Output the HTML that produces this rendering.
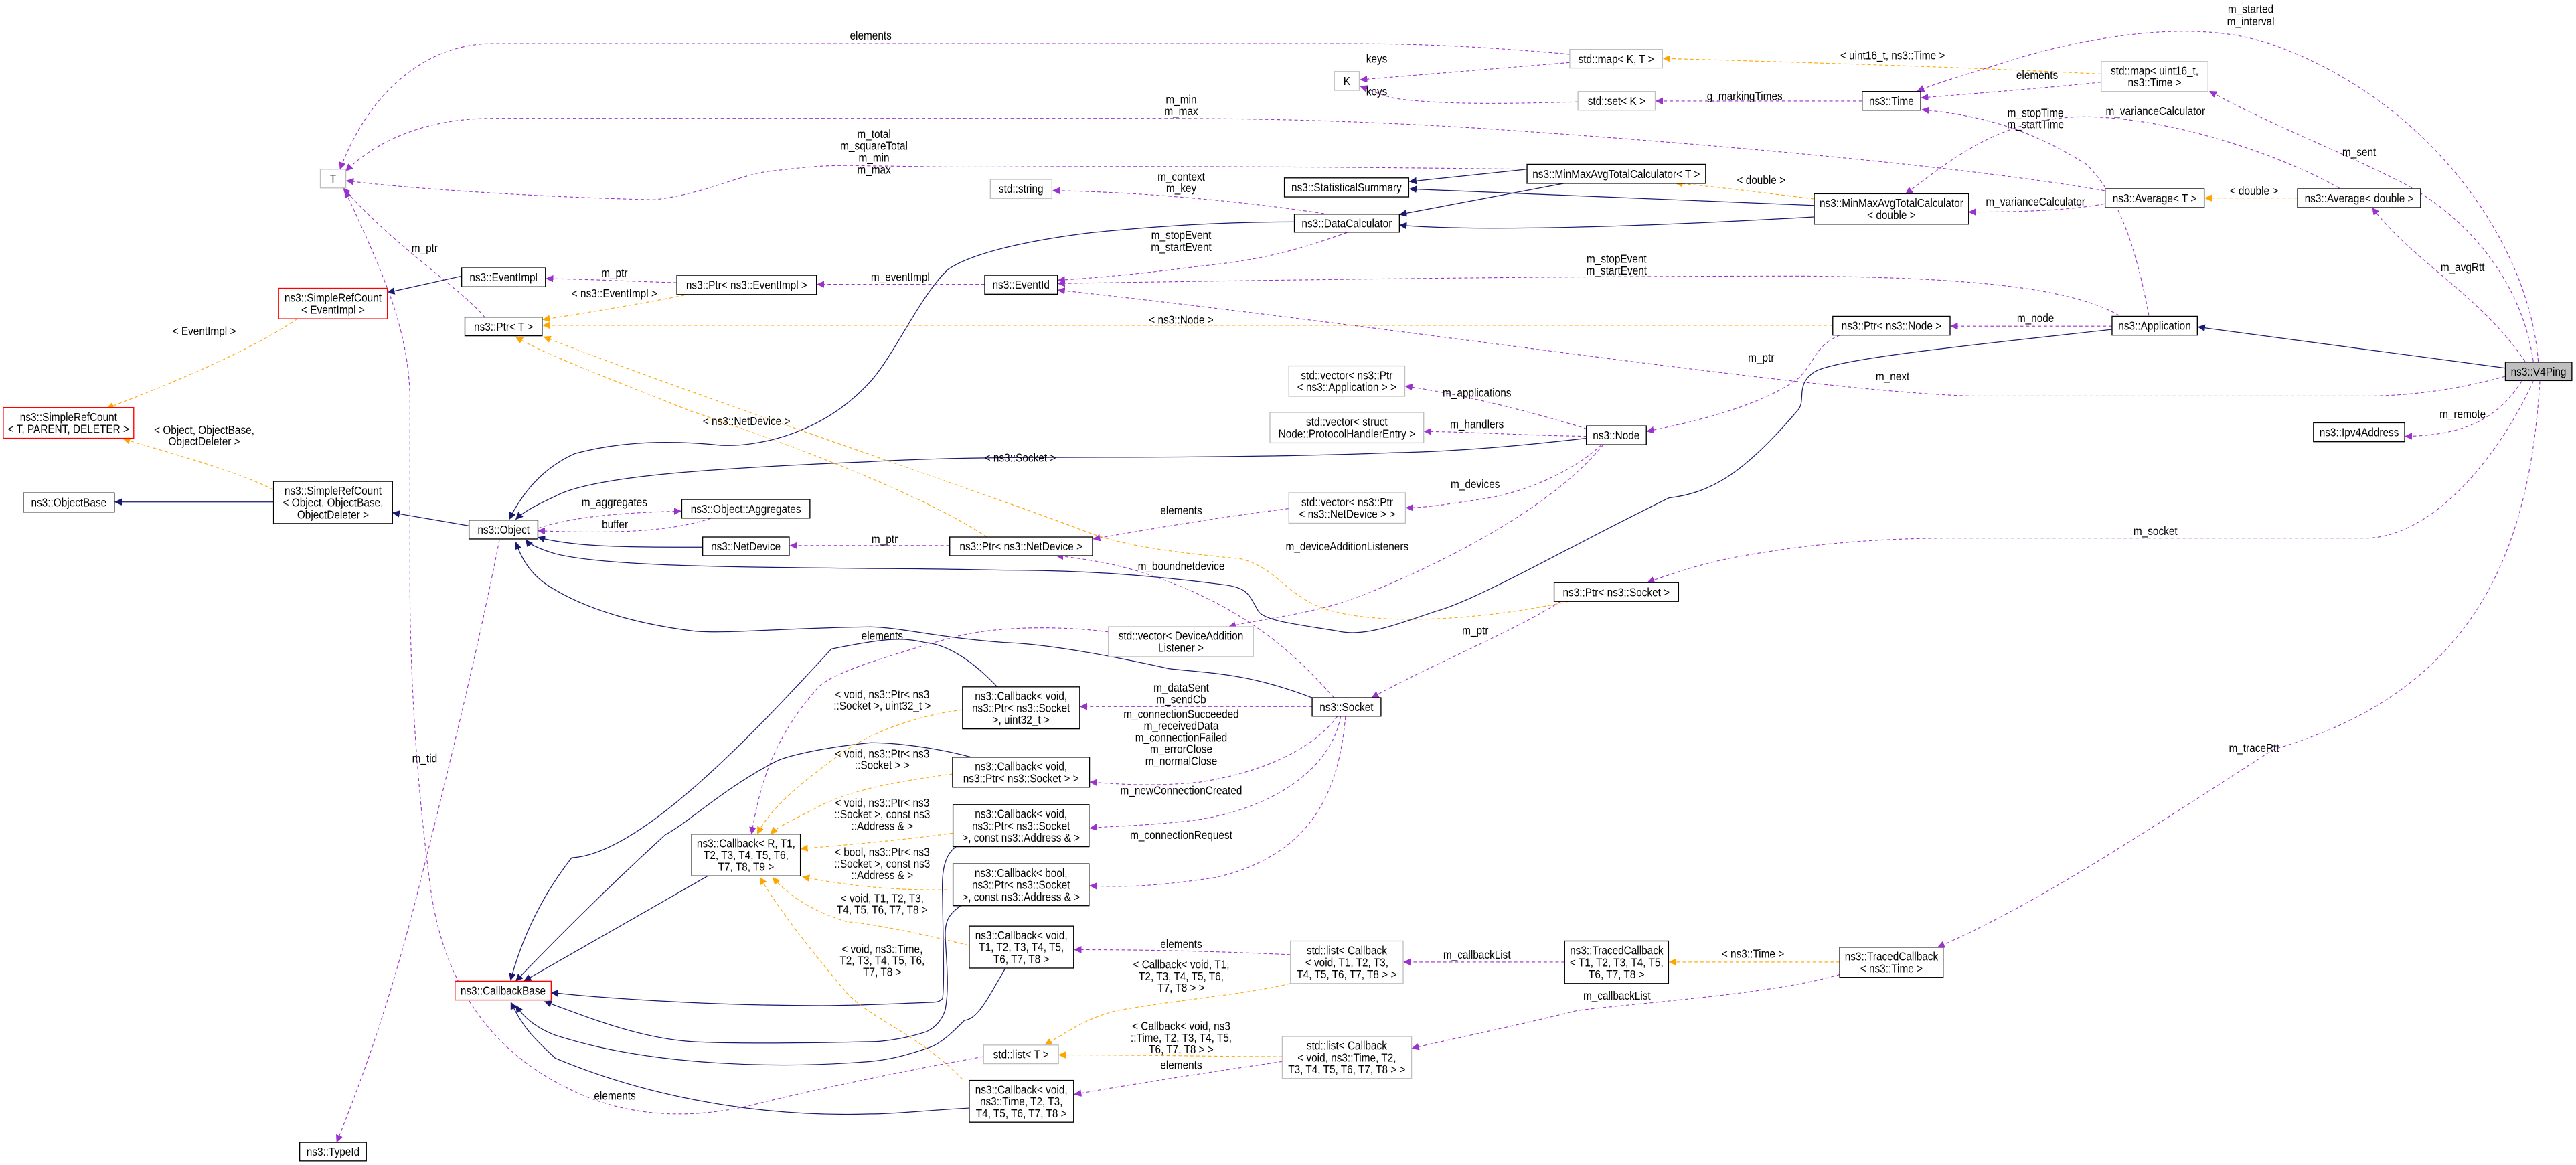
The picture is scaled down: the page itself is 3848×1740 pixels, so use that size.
<!DOCTYPE html>
<html><head><meta charset="utf-8"><style>
html,body{margin:0;padding:0;background:#fff;width:3848px;height:1740px;overflow:hidden}
svg{display:block}
text{font-family:"Liberation Sans",sans-serif;font-size:7.2px;fill:#000;text-anchor:middle;transform-box:fill-box;transform-origin:center;transform:scaleX(0.87)}
.b{fill:#fff;stroke:#000;stroke-width:0.55}
.g{fill:#fff;stroke:#bfbfbf;stroke-width:0.55}
.r{fill:#fff;stroke:#ff0000;stroke-width:0.55}
.u{fill:none;stroke:#9a32cd;stroke-width:0.45;stroke-dasharray:2 1.6}
.t{fill:none;stroke:#ffa500;stroke-width:0.45;stroke-dasharray:2 1.6}
.i{fill:none;stroke:#191970;stroke-width:0.5}
</style></head><body>
<svg width="3848" height="1740" viewBox="0 0 1568 709" xmlns="http://www.w3.org/2000/svg">
<defs>
<marker id="mu" markerUnits="userSpaceOnUse" markerWidth="5" markerHeight="5" refX="4.2" refY="2" orient="auto"><path d="M0,0 L4.2,2 L0,4 Z" fill="#9a32cd" stroke="#9a32cd" stroke-width="0.3"/></marker>
<marker id="mt" markerUnits="userSpaceOnUse" markerWidth="5" markerHeight="5" refX="4.2" refY="2" orient="auto"><path d="M0,0 L4.2,2 L0,4 Z" fill="#ffa500" stroke="#ffa500" stroke-width="0.3"/></marker>
<marker id="mi" markerUnits="userSpaceOnUse" markerWidth="5" markerHeight="5" refX="4.2" refY="2" orient="auto"><path d="M0,0 L4.2,2 L0,4 Z" fill="#191970" stroke="#191970" stroke-width="0.3"/></marker>
</defs>

<g class="i" marker-end="url(#mi)">
<path d="M1525,224 L1338,199"/>
<path d="M166.5,305.5 L70,305.5"/>
<path d="M285.5,320 L239,312"/>
<path d="M281,168 L236,178"/>
<path d="M929.5,103 L858,110.5"/>
<path d="M952,111.6 L852,130.5"/>
<path d="M1104,125 C1000,121 900,117 858,115"/>
<path d="M1104,132 C1000,138 900,141 852,137"/>
<path d="M788,135 C740,135 700,138 665,141.5 C620,147 590,155 577,164 C560,180 545,215 530,232 C500,265 460,272 439,271 C410,268 380,268 350,276 C330,285 318,300 310,316"/>
<path d="M1285.6,200.5 C1200,210 1120,218 1105,226 C1092,234 1100,244 1094,250 C1060,290 1040,300 1016,303 C960,330 900,365 874,372 C850,380 830,388 814,384 C790,380 770,378 766,372 C760,362 760,358 746,356 C700,350 660,347 611,347 C560,346 529,346 529,346 C450,345 370,345 338,337 C328,334 322,331 320,328.5"/>
<path d="M965.6,266.7 C920,272 880,275 848,275.5 C760,279 650,278 611,278.5 C560,279 529,281 529,281 C430,285 360,290 338,302 C325,308 318,312 314,316"/>
<path d="M427.7,333 C380,333 350,333 327.5,327"/>
<path d="M798.7,424.6 C760,410 740,410 712,407 C680,400 640,392 611,391 C570,388 550,382 530,381.5 C480,382 440,386 422,384 C390,380 360,372 338,359 C325,352 318,342 314,330"/>
<path d="M607,418 C590,400 575,392 563,391 C550,388 540,388 506,395 C460,445 390,520 348,522 C330,545 318,570 310.8,596.5"/>
<path d="M592,461 C570,455 545,452 530,452 C500,455 480,460 473,463 C440,480 420,500 405,508 C370,540 340,570 314,597"/>
<path d="M431,533 L319,597"/>
<path d="M582,515.3 C575,520 573,530 573.7,545 C574,570 575,600 573.7,607.7 C572,610 568,610 567,610 C540,611 520,612 500,612 C430,612 360,607 335.5,604"/>
<path d="M585,551 C578,556 575,560 575.4,570 C576,585 578,600 575.4,614.5 C573,622 568,626 563.6,628 C548,633 535,634 529.8,634 C480,635 440,635 422,634 C390,632 360,620 331.5,609.5"/>
<path d="M612,589.2 C600,610 595,620 587,621 C580,628 574,634 567,637 C550,643 540,645 529.8,646 C480,650 400,650 338,630 C325,625 318,618 314,612"/>
<path d="M590,674.4 C560,676 545,678 529.8,678 C470,680 400,670 338,644 C325,632 318,625 311,610"/>
</g>

<g class="u" marker-end="url(#mu)">
<path d="M955.5,33 C900,28 860,26.5 820,26.5 L300,26.5 C260,26.5 225,55 207,103"/>
<path d="M955.5,38 C920,41 870,45 828,48.5"/>
<path d="M960.5,62 C920,63 880,64 850,60 C840,58 835,55 828,52.5"/>
<path d="M1133.5,61.5 L1008,61.5"/>
<path d="M1279,50 C1240,54 1200,57 1169.5,59.5"/>
<path d="M1545,220 C1540,150 1480,60 1380,26 C1330,10 1260,25 1220,38 C1195,46 1180,50 1167,55.5"/>
<path d="M1542,220 C1535,170 1500,130 1460,110 C1420,90 1380,75 1345,55.5"/>
<path d="M1424,114.6 C1400,100 1330,72 1270,71 C1220,71 1190,95 1160,118"/>
<path d="M1308,192 C1300,150 1290,120 1270,100 C1230,75 1200,70 1170,66.7"/>
<path d="M1281,124 C1260,128 1230,129 1198.5,129"/>
<path d="M1281,116 C1200,102 1050,88 900,78 C820,73 760,72 700,72 L300,72 C260,72 230,85 210.5,104"/>
<path d="M929.5,103 C850,102 750,101 620,101.5 C570,102 550,101 530,101 C500,100 490,102 470,104 C450,106 430,118 398,121.5 C330,120 250,115 211,110"/>
<path d="M806,130 C760,123 700,117 641,116"/>
<path d="M820,141.5 C790,152 770,158 730,162 C700,166 670,169 644,170.5"/>
<path d="M1290,192 C1260,175 1200,169 1100,168 C950,168 800,170 644,172.5"/>
<path d="M1525,229 C1500,236 1470,241 1440,241 L1200,241 C1100,238 860,200 644,176.5"/>
<path d="M412,172 C380,171 360,170 332.5,169.5"/>
<path d="M599.4,173 L497.5,173"/>
<path d="M295,193 C280,175 240,150 209,114.5"/>
<path d="M1285.6,198.5 L1187.5,198.5"/>
<path d="M1120,204 C1105,210 1105,220 1095,230 C1075,245 1040,255 1002.5,262.5"/>
<path d="M966,261 C930,250 890,240 855.5,235"/>
<path d="M966,265.5 C930,265 900,263 867,262.5"/>
<path d="M975,270.5 C960,285 930,300 900,304 C880,307 868,309 856,309"/>
<path d="M976,270.5 C940,315 860,350 830,362 C800,374 770,376 748,381.4"/>
<path d="M784.5,309.5 C740,315 700,322 665.5,328"/>
<path d="M578,332 L481,332"/>
<path d="M812,424.6 C790,400 760,370 700,350 C680,343 660,340 643,338.2"/>
<path d="M327.5,321.5 C350,314 380,312 414.5,311"/>
<path d="M433,315.3 C410,323 380,325 327.5,323"/>
<path d="M1535,232 C1520,255 1500,265 1464,265.5"/>
<path d="M1537,220 C1510,180 1470,160 1444,126.5"/>
<path d="M1542,232 C1520,280 1480,327 1440,327.5 L1183,327.5 C1120,328 1080,335 1059.5,338.5 C1040,342 1020,348 1002.8,354.5"/>
<path d="M1546,232 C1540,330 1510,420 1384,456 C1300,510 1240,550 1179.5,576.5"/>
<path d="M950,366 C920,385 870,405 835,424.6"/>
<path d="M798.7,430 L657.5,430"/>
<path d="M814,436 C800,455 770,470 730,476 C700,479 680,477 663.5,476"/>
<path d="M816,436 C810,470 770,495 720,500 C690,503 670,503 663.5,504"/>
<path d="M819,436 C815,480 800,520 740,534 C700,540 680,540 663.5,539"/>
<path d="M785.5,581 C740,579 700,578 654,578"/>
<path d="M952.4,585.5 L854.5,585.5"/>
<path d="M1120,593 C1080,605 1000,610 960,615 C920,625 880,633 859.5,638"/>
<path d="M780.5,646 C740,652 700,658 654,666"/>
<path d="M674.7,384.6 C640,380 600,382 580,388 C560,393 540,400 529.8,403 C510,410 500,415 496.6,420 C470,450 462,480 457.5,507.5"/>
<path d="M598.7,643 C560,650 500,662 460,672 C420,682 380,680 345,662 C300,640 270,600 262,540 C254,480 250,420 249.5,360 L249.5,240 C248,200 235,170 210,116"/>
<path d="M304,328.5 C290,400 270,480 255,540 C235,620 215,670 205,695"/>
</g>

<g class="t" marker-end="url(#mt)">
<path d="M1279,45 C1200,41 1100,38 1012.5,35.5"/>
<path d="M1104.3,121 C1070,117 1040,113 1020,111.5"/>
<path d="M1398.5,120.5 L1342.2,120.5"/>
<path d="M420,179 C400,183 360,190 330.5,194.5"/>
<path d="M1115.6,198 L330.5,198"/>
<path d="M600.7,326.8 C560,300 480,270 420,250 C370,230 330,215 314,205"/>
<path d="M955,366 C900,378 830,382 800,368 C780,358 775,345 755,340 C700,335 680,330 665,325 C600,300 420,240 331,205"/>
<path d="M181,194 C150,215 100,235 65,248.5"/>
<path d="M166.5,298 C140,285 100,275 75,267"/>
<path d="M586,432 C560,435 530,445 510,460 C490,475 470,490 461,507.5"/>
<path d="M580,471 C550,475 520,480 500,490 C485,498 475,502 469,507.5"/>
<path d="M580,507 C560,510 520,514 487.5,516.5"/>
<path d="M576.5,541.5 C550,542 520,540 488.5,533.6"/>
<path d="M589.5,575.3 C560,568 530,562 515.6,561 C495,555 480,545 470.4,534"/>
<path d="M585.8,656.8 C560,630 530,620 515.5,604.4 C495,580 475,555 462.6,534"/>
<path d="M785.5,598.5 C760,605 720,608 680,615 C660,620 650,628 636,636"/>
<path d="M780.5,643 C740,643 700,642 644.5,642"/>
<path d="M1119.8,585.5 L1016,585.5"/>
</g>

<rect class="g" x="195" y="103" width="15.5" height="11.4"/><text x="202.7" y="111.2">T</text>
<rect class="b" x="281" y="163" width="51" height="11.5"/><text x="306.5" y="171.2">ns3::EventImpl</text>
<rect class="b" x="412" y="167.5" width="85" height="11.7"/><text x="454.5" y="175.8">ns3::Ptr&lt; ns3::EventImpl &gt;</text>
<rect class="r" x="169.6" y="175.4" width="66.2" height="18.6"/><text x="202.7" y="183.6">ns3::SimpleRefCount</text><text x="202.7" y="190.8">&lt; EventImpl &gt;</text>
<rect class="b" x="283" y="193" width="47" height="11.4"/><text x="306.5" y="201.2">ns3::Ptr&lt; T &gt;</text>
<rect class="r" x="2" y="248" width="79.4" height="18.7"/><text x="41.7" y="256.3">ns3::SimpleRefCount</text><text x="41.7" y="263.5">&lt; T, PARENT, DELETER &gt;</text>
<rect class="b" x="14.2" y="300" width="55.4" height="11.6"/><text x="41.9" y="308.3">ns3::ObjectBase</text>
<rect class="b" x="166.5" y="293" width="72.4" height="25.6"/><text x="202.7" y="301.1">ns3::SimpleRefCount</text><text x="202.7" y="308.3">&lt; Object, ObjectBase,</text><text x="202.7" y="315.5">ObjectDeleter &gt;</text>
<rect class="b" x="285.5" y="316.5" width="41.9" height="11.5"/><text x="306.5" y="324.7">ns3::Object</text>
<rect class="b" x="415" y="304" width="78" height="11.3"/><text x="454" y="312.1">ns3::Object::Aggregates</text>
<rect class="b" x="427.7" y="326.8" width="52.7" height="11.4"/><text x="454" y="335">ns3::NetDevice</text>
<rect class="g" x="955.5" y="30" width="56.4" height="11.4"/><text x="983.7" y="38.2">std::map&lt; K, T &gt;</text>
<rect class="g" x="812.2" y="43.5" width="15.2" height="11.5"/><text x="819.8" y="51.7">K</text>
<rect class="g" x="960.5" y="55.7" width="47" height="11.4"/><text x="984" y="63.9">std::set&lt; K &gt;</text>
<rect class="b" x="929.5" y="100" width="108.7" height="11.6"/><text x="983.8" y="108.3">ns3::MinMaxAvgTotalCalculator&lt; T &gt;</text>
<rect class="b" x="781.8" y="108.3" width="75.7" height="11.5"/><text x="819.6" y="116.5">ns3::StatisticalSummary</text>
<rect class="g" x="602.8" y="109.2" width="37.5" height="11.5"/><text x="621.5" y="117.4">std::string</text>
<rect class="b" x="787.9" y="130.3" width="63.9" height="11"/><text x="819.8" y="138.3">ns3::DataCalculator</text>
<rect class="b" x="599.4" y="167.5" width="44.3" height="11.5"/><text x="621.5" y="175.7">ns3::EventId</text>
<rect class="g" x="784.5" y="222.7" width="70.6" height="18.5"/><text x="819.8" y="230.8">std::vector&lt; ns3::Ptr</text><text x="819.8" y="238">&lt; ns3::Application &gt; &gt;</text>
<rect class="g" x="773" y="251" width="93.6" height="18.5"/><text x="819.8" y="259.1">std::vector&lt; struct</text><text x="819.8" y="266.3">Node::ProtocolHandlerEntry &gt;</text>
<rect class="b" x="965.6" y="259.2" width="36.5" height="11.4"/><text x="983.8" y="267.4">ns3::Node</text>
<rect class="g" x="784.5" y="299.9" width="71" height="18.5"/><text x="820" y="308">std::vector&lt; ns3::Ptr</text><text x="820" y="315.2">&lt; ns3::NetDevice &gt; &gt;</text>
<rect class="b" x="578.1" y="326.8" width="86.9" height="11.4"/><text x="621.5" y="335">ns3::Ptr&lt; ns3::NetDevice &gt;</text>
<rect class="b" x="946" y="354.6" width="75.7" height="11.4"/><text x="983.8" y="362.8">ns3::Ptr&lt; ns3::Socket &gt;</text>
<rect class="g" x="1279" y="37.4" width="65" height="18.3"/><text x="1311.5" y="45.4">std::map&lt; uint16_t,</text><text x="1311.5" y="52.6">ns3::Time &gt;</text>
<rect class="b" x="1133.5" y="55.7" width="35.6" height="11.4"/><text x="1151.3" y="63.9">ns3::Time</text>
<rect class="b" x="1104.3" y="117.9" width="94" height="18.5"/><text x="1151.3" y="126">ns3::MinMaxAvgTotalCalculator</text><text x="1151.3" y="133.2">&lt; double &gt;</text>
<rect class="b" x="1281.4" y="114.9" width="60.3" height="11.4"/><text x="1311.5" y="123.1">ns3::Average&lt; T &gt;</text>
<rect class="b" x="1398.5" y="114.9" width="74.9" height="11.4"/><text x="1436" y="123.1">ns3::Average&lt; double &gt;</text>
<rect class="b" x="1115.6" y="192.5" width="71.4" height="11.5"/><text x="1151.3" y="200.7">ns3::Ptr&lt; ns3::Node &gt;</text>
<rect class="b" x="1285.6" y="192.5" width="51.9" height="11.5"/><text x="1311.5" y="200.7">ns3::Application</text>
<rect x="1525" y="220.4" width="40.5" height="11.2" fill="#bfbfbf" stroke="#000" stroke-width="0.55"/><text x="1545.2" y="228.5">ns3::V4Ping</text>
<rect class="b" x="1408.2" y="257.3" width="55.5" height="11.5"/><text x="1436" y="265.5">ns3::Ipv4Address</text>
<rect class="b" x="421" y="507.6" width="66.2" height="25.5"/><text x="454.1" y="515.6">ns3::Callback&lt; R, T1,</text><text x="454.1" y="522.8">T2, T3, T4, T5, T6,</text><text x="454.1" y="530">T7, T8, T9 &gt;</text>
<rect class="r" x="277" y="597.1" width="58.5" height="11.5"/><text x="306.2" y="605.3">ns3::CallbackBase</text>
<rect class="b" x="182.4" y="695.2" width="40.6" height="11.3"/><text x="202.7" y="703.3">ns3::TypeId</text>
<rect class="g" x="674.7" y="381.4" width="88.2" height="18.3"/><text x="718.8" y="389.4">std::vector&lt; DeviceAddition</text><text x="718.8" y="396.6">Listener &gt;</text>
<rect class="b" x="585.9" y="418" width="71.3" height="25.6"/><text x="621.5" y="426.1">ns3::Callback&lt; void,</text><text x="621.5" y="433.3">ns3::Ptr&lt; ns3::Socket</text><text x="621.5" y="440.5">&gt;, uint32_t &gt;</text>
<rect class="b" x="798.7" y="424.6" width="41.9" height="11.3"/><text x="819.6" y="432.7">ns3::Socket</text>
<rect class="b" x="579.8" y="460.8" width="83.4" height="18.3"/><text x="621.5" y="468.9">ns3::Callback&lt; void,</text><text x="621.5" y="476.1">ns3::Ptr&lt; ns3::Socket &gt; &gt;</text>
<rect class="b" x="580.1" y="489.7" width="82.8" height="25.6"/><text x="621.5" y="497.8">ns3::Callback&lt; void,</text><text x="621.5" y="505">ns3::Ptr&lt; ns3::Socket</text><text x="621.5" y="512.2">&gt;, const ns3::Address &amp; &gt;</text>
<rect class="b" x="580.1" y="525.7" width="82.8" height="25.5"/><text x="621.5" y="533.8">ns3::Callback&lt; bool,</text><text x="621.5" y="541">ns3::Ptr&lt; ns3::Socket</text><text x="621.5" y="548.2">&gt;, const ns3::Address &amp; &gt;</text>
<rect class="b" x="590" y="563.6" width="63.5" height="25.6"/><text x="621.7" y="571.7">ns3::Callback&lt; void,</text><text x="621.7" y="578.9">T1, T2, T3, T4, T5,</text><text x="621.7" y="586.1">T6, T7, T8 &gt;</text>
<rect class="g" x="785.5" y="572.7" width="68.6" height="25.8"/><text x="819.8" y="580.9">std::list&lt; Callback</text><text x="819.8" y="588.1">&lt; void, T1, T2, T3,</text><text x="819.8" y="595.3">T4, T5, T6, T7, T8 &gt; &gt;</text>
<rect class="b" x="952.4" y="572.7" width="63.2" height="25.8"/><text x="984" y="580.9">ns3::TracedCallback</text><text x="984" y="588.1">&lt; T1, T2, T3, T4, T5,</text><text x="984" y="595.3">T6, T7, T8 &gt;</text>
<rect class="g" x="598.7" y="636" width="45.6" height="11.3"/><text x="621.5" y="644.1">std::list&lt; T &gt;</text>
<rect class="g" x="780.5" y="630.8" width="78.7" height="25.5"/><text x="819.8" y="638.8">std::list&lt; Callback</text><text x="819.8" y="646">&lt; void, ns3::Time, T2,</text><text x="819.8" y="653.2">T3, T4, T5, T6, T7, T8 &gt; &gt;</text>
<rect class="b" x="590" y="657.5" width="63.5" height="25.5"/><text x="621.7" y="665.6">ns3::Callback&lt; void,</text><text x="621.7" y="672.8">ns3::Time, T2, T3,</text><text x="621.7" y="680">T4, T5, T6, T7, T8 &gt;</text>
<rect class="b" x="1119.8" y="576.5" width="63" height="18.3"/><text x="1151.3" y="584.6">ns3::TracedCallback</text><text x="1151.3" y="591.8">&lt; ns3::Time &gt;</text>

<text x="530" y="24">elements</text>
<text x="838" y="38">keys</text>
<text x="838" y="58">keys</text>
<text x="1062" y="61">g_markingTimes</text>
<text x="1240" y="48">elements</text>
<text x="1370" y="8">m_started</text><text x="1370" y="15.5">m_interval</text>
<text x="1436" y="95">m_sent</text>
<text x="1312" y="70">m_varianceCalculator</text>
<text x="1239" y="71">m_stopTime</text><text x="1239" y="78">m_startTime</text>
<text x="1239" y="125">m_varianceCalculator</text>
<text x="719" y="63">m_min</text><text x="719" y="70">m_max</text>
<text x="532" y="84">m_total</text><text x="532" y="91">m_squareTotal</text><text x="532" y="98.5">m_min</text><text x="532" y="105.7">m_max</text>
<text x="719" y="110">m_context</text><text x="719" y="117">m_key</text>
<text x="719" y="145.5">m_stopEvent</text><text x="719" y="152.8">m_startEvent</text>
<text x="984" y="160">m_stopEvent</text><text x="984" y="167">m_startEvent</text>
<text x="1152" y="231.5">m_next</text>
<text x="374" y="168.5">m_ptr</text>
<text x="548" y="171">m_eventImpl</text>
<text x="258.5" y="153.5">m_ptr</text>
<text x="1239" y="196">m_node</text>
<text x="1072" y="220">m_ptr</text>
<text x="899" y="241.5">m_applications</text>
<text x="899" y="260.5">m_handlers</text>
<text x="898" y="297">m_devices</text>
<text x="820" y="335">m_deviceAdditionListeners</text>
<text x="719" y="313">elements</text>
<text x="538.5" y="330.5">m_ptr</text>
<text x="719" y="347">m_boundnetdevice</text>
<text x="374" y="308">m_aggregates</text>
<text x="374.3" y="321.5">buffer</text>
<text x="1499" y="254.5">m_remote</text>
<text x="1499" y="165">m_avgRtt</text>
<text x="1312" y="325.5">m_socket</text>
<text x="1372" y="457.5">m_traceRtt</text>
<text x="898" y="386">m_ptr</text>
<text x="719" y="421">m_dataSent</text><text x="719" y="428">m_sendCb</text>
<text x="719" y="437">m_connectionSucceeded</text><text x="719" y="444.2">m_receivedData</text><text x="719" y="451.3">m_connectionFailed</text><text x="719" y="458.3">m_errorClose</text><text x="719" y="465.5">m_normalClose</text>
<text x="719" y="483.5">m_newConnectionCreated</text>
<text x="719" y="510.5">m_connectionRequest</text>
<text x="719" y="577">elements</text>
<text x="899" y="583.5">m_callbackList</text>
<text x="984.2" y="608.3">m_callbackList</text>
<text x="719" y="650.5">elements</text>
<text x="537" y="389.3">elements</text>
<text x="374.3" y="669.3">elements</text>
<text x="258.5" y="464">m_tid</text>
<text x="1152" y="36">&lt; uint16_t, ns3::Time &gt;</text>
<text x="1072" y="112">&lt; double &gt;</text>
<text x="1372" y="118.5">&lt; double &gt;</text>
<text x="374" y="181">&lt; ns3::EventImpl &gt;</text>
<text x="719" y="197">&lt; ns3::Node &gt;</text>
<text x="454.4" y="258.8">&lt; ns3::NetDevice &gt;</text>
<text x="621" y="281">&lt; ns3::Socket &gt;</text>
<text x="124.3" y="204">&lt; EventImpl &gt;</text>
<text x="124.3" y="264">&lt; Object, ObjectBase,</text><text x="124.3" y="271">ObjectDeleter &gt;</text>
<text x="537" y="425">&lt; void, ns3::Ptr&lt; ns3</text><text x="537" y="432">::Socket &gt;, uint32_t &gt;</text>
<text x="537" y="461">&lt; void, ns3::Ptr&lt; ns3</text><text x="537" y="468">::Socket &gt; &gt;</text>
<text x="537" y="491">&lt; void, ns3::Ptr&lt; ns3</text><text x="537" y="498">::Socket &gt;, const ns3</text><text x="537" y="505">::Address &amp; &gt;</text>
<text x="537" y="521">&lt; bool, ns3::Ptr&lt; ns3</text><text x="537" y="528">::Socket &gt;, const ns3</text><text x="537" y="535">::Address &amp; &gt;</text>
<text x="537" y="549">&lt; void, T1, T2, T3,</text><text x="537" y="556">T4, T5, T6, T7, T8 &gt;</text>
<text x="537" y="580">&lt; void, ns3::Time,</text><text x="537" y="587">T2, T3, T4, T5, T6,</text><text x="537" y="594">T7, T8 &gt;</text>
<text x="719" y="589.5">&lt; Callback&lt; void, T1,</text><text x="719" y="596.5">T2, T3, T4, T5, T6,</text><text x="719" y="603.5">T7, T8 &gt; &gt;</text>
<text x="719" y="627">&lt; Callback&lt; void, ns3</text><text x="719" y="634">::Time, T2, T3, T4, T5,</text><text x="719" y="641">T6, T7, T8 &gt; &gt;</text>
<text x="1067" y="583">&lt; ns3::Time &gt;</text>
</svg>
</body></html>
